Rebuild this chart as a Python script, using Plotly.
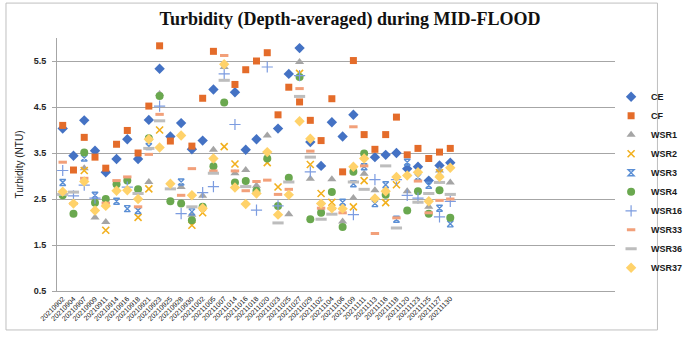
import plotly.graph_objects as go

# Survey dates (mid-flood sampling)
dates = [
    "20210902", "20210904", "20210907", "20210909", "20210911", "20210914",
    "20210916", "20210918", "20210921", "20210923", "20210925", "20210928",
    "20210930", "20211002", "20211005", "20211007", "20211014", "20211016",
    "20211018", "20211020", "20211023", "20211025", "20211027", "20211029",
    "20211102", "20211104", "20211106", "20211109", "20211111", "20211113",
    "20211116", "20211118", "20211120", "20211123", "20211125", "20211127",
    "20211130",
]

N = None

# Depth-averaged turbidity (NTU) per station
ce = [4.03, 3.44, 4.21, 3.55, 3.08, 3.37, 3.80, 3.37, 4.22, 5.33, 3.86, 4.15,
      3.58, 3.77, 4.88, N, 4.82, 3.57, 3.80, N, 4.03, 5.22, 5.78, 3.74,
      3.22, 4.17, 3.86, 4.33, N, 3.41, 3.46, 3.50, 3.16, 3.20, 2.90, 3.23, 3.29]
cf = [4.10, 3.13, 3.84, 3.41, 3.17, 3.69, 3.99, 3.50, 4.52, 5.83, 3.76, N,
      3.65, 4.69, 5.71, N, 4.99, 5.31, 5.50, 5.68, 4.33, 4.93, 4.61, 4.21,
      3.77, 4.68, 3.09, 5.51, 3.90, 3.58, 3.90, 4.28, 3.46, 3.60, 3.38, 3.52, 3.60]
wsr1 = [N, N, 3.17, 2.10, 2.00, N, N, N, 2.87, 4.78, N, 2.76,
        2.16, 2.57, 3.57, 5.37, 3.06, 3.13, 2.79, 3.88, N, 2.17, 5.48, 2.94,
        N, 2.93, 2.01, 2.52, 3.05, 2.69, N, N, 2.67, N, 2.33, 3.12, 2.86]
wsr2 = [N, N, 3.12, N, 1.82, N, N, 2.10, 2.72, 4.00, N, N,
        1.93, 2.20, N, 3.64, 3.26, N, N, 3.29, 2.76, N, 5.23, 3.25,
        2.62, 2.43, N, 2.33, 2.90, N, 2.42, 2.81, N, N, N, 3.07, N]
wsr3 = [2.86, N, 3.39, 2.58, N, 2.45, 2.29, 2.25, 3.64, N, N, 2.87,
        2.22, N, N, N, N, N, N, N, N, N, N, N,
        2.33, N, 2.43, 2.83, 3.20, 2.40, 2.81, 2.06, 3.30, 2.98, 2.80, 2.30, 1.96]
wsr4 = [2.58, 2.18, 3.51, 2.42, 2.50, 2.82, 2.90, 2.71, 3.82, 4.74, 2.45, 2.40,
        2.04, 2.33, 3.21, 4.60, 2.86, 2.89, 2.68, 3.38, 2.35, 2.96, 5.15, 2.06,
        2.20, 2.65, 1.89, 3.09, 3.49, N, 2.59, N, 2.25, 2.67, 2.18, 2.69, 2.09]
wsr16 = [3.12, 2.57, 2.80, 2.52, N, N, 2.76, N, N, 4.52, N, 2.18,
         N, 2.64, 2.77, 5.22, 4.12, N, 2.26, 5.37, 2.35, N, 5.18, 3.09,
         N, N, N, 2.16, N, 2.92, N, 2.92, 2.58, 2.52, N, 2.11, 2.45]
wsr33 = [3.30, 2.40, 2.95, N, 2.41, 2.90, 2.98, 2.33, 3.47, 4.34, N, 2.58,
         3.16, N, 3.11, 5.62, 3.11, 2.68, 2.88, 2.91, 2.60, 2.71, 4.90, 3.54,
         2.30, 2.29, 2.20, 4.07, 3.22, 1.75, N, 2.09, N, 2.89, 2.20, 2.47, 2.50]
wsr36 = [2.60, 2.65, N, N, N, N, N, 2.62, 3.60, 4.20, 2.72, N,
         2.33, N, 3.06, 5.08, N, 2.77, N, N, 1.98, 2.87, 4.73, 3.41,
         2.06, 2.17, N, 2.87, 2.71, N, 3.22, 1.87, N, 2.43, 2.62, 2.86, 2.60]
wsr37 = [2.66, 2.40, 2.88, 2.25, 2.35, 2.68, 2.69, 2.50, 3.80, 3.62, 2.83, 3.88,
         2.58, 2.30, 3.38, 5.43, 2.75, 2.39, 2.62, 3.52, 2.16, 2.59, 4.19, 3.81,
         2.40, 2.30, 2.29, 3.20, 3.38, 2.51, 2.67, 2.98, 3.01, 3.08, 2.45, 2.98, 3.18]

y_ticks = [0.5, 1.5, 2.5, 3.5, 4.5, 5.5]

# name, values, marker symbol, color, size, outline width
series = [
    ("CE", ce, "diamond", "#4472C4", 8, 0),
    ("CF", cf, "square", "#E46C2A", 7, 0),
    ("WSR1", wsr1, "triangle-up", "#A5A5A5", 8, 0),
    ("WSR2", wsr2, "x-thin-open", "#F2B01E", 7, 1.6),
    ("WSR3", wsr3, "hourglass-open", "#5B8FD5", 6, 1.4),
    ("WSR4", wsr4, "circle", "#6AA84F", 8, 0),
    ("WSR16", wsr16, "cross-thin-open", "#7C9CE0", 8, 1.2),
    ("WSR33", wsr33, "line-ew-open", "#F2A07A", 6, 3),
    ("WSR36", wsr36, "line-ew-open", "#BDBDBD", 8, 3),
    ("WSR37", wsr37, "diamond", "#FFD26A", 8, 0),
]

fig = go.Figure()
for name, vals, sym, col, size, lw in series:
    marker = dict(symbol=sym, size=size, color=col)
    if lw:
        marker["line"] = dict(color=col, width=lw)
    else:
        marker["line"] = dict(width=0)
    fig.add_trace(go.Scatter(x=dates, y=vals, mode="markers", name=name,
                             marker=marker, cliponaxis=False))

fig.update_layout(
    width=700, height=340,
    margin=dict(l=57, r=52, t=38, b=49),
    paper_bgcolor="white", plot_bgcolor="white",
    title=dict(text="Turbidity (Depth-averaged) during MID-FLOOD",
               font=dict(family="Liberation Serif", size=18, color="#111111", weight="bold"),
               x=0.5, xanchor="center", y=0.944, yanchor="middle"),
    showlegend=True,
    legend=dict(x=0.993, xanchor="left", y=0.825, yanchor="top",
                font=dict(family="Liberation Sans", size=9, color="#1a1a1a", weight="bold"),
                itemwidth=30, tracegroupgap=0, bgcolor="rgba(0,0,0,0)"),
    font=dict(family="Liberation Sans"),
)

fig.update_xaxes(
    type="category", categoryorder="array", categoryarray=dates,
    range=[-0.53, 51.3], tickangle=-45,
    tickfont=dict(size=7, color="#111111"),
    showgrid=False, showline=True, linecolor="#A6A6A6", linewidth=1,
    ticks="", zeroline=False,
)
fig.update_yaxes(
    range=[0.5, 6.0], tickvals=y_ticks, ticktext=[f"{v:.1f}" for v in y_ticks],
    tickfont=dict(size=9, color="#262626", weight="bold"),
    showgrid=True, gridcolor="#A6A6A6", gridwidth=1,
    showline=True, linecolor="#A6A6A6", linewidth=1,
    ticks="outside", ticklen=4, tickcolor="#A6A6A6", ticklabelstandoff=4,
    zeroline=False,
    title=dict(text="Turbidity (NTU)", font=dict(size=10, color="#262626"), standoff=8),
)

# Chart frame
fig.add_shape(type="rect", xref="paper", yref="paper",
              x0=-0.0914, x1=1.0761, y0=-0.154, y1=1.138,
              line=dict(color="#BFBFBF", width=1), fillcolor="rgba(0,0,0,0)", layer="below")

fig.write_html("out.html")
